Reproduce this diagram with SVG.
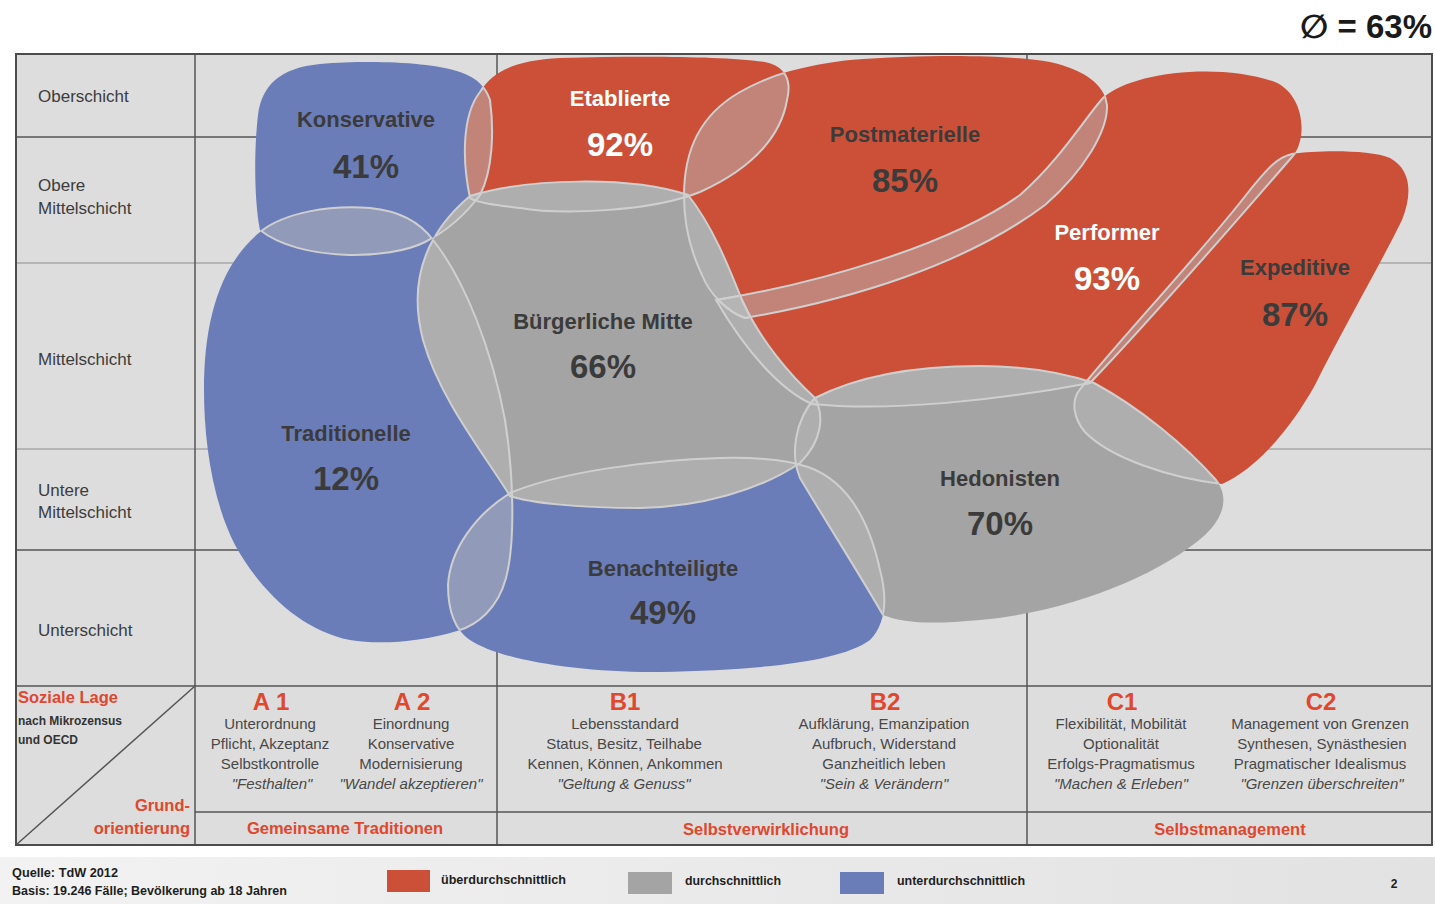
<svg xmlns="http://www.w3.org/2000/svg" width="1435" height="904" viewBox="0 0 1435 904">
<style>
text{font-family:"Liberation Sans",Arial,sans-serif}
.blue{fill:#6b7db9}
.red{fill:#cc5038}
.gray{fill:#a4a4a4}
.lens{fill:#b8b8b8;fill-opacity:.5;stroke:none}
.edge{fill:none;stroke:#cfcfcf;stroke-width:2}
.lbl{font-weight:bold;font-size:22px;fill:#3b3b3b;text-anchor:middle}
.pct{font-weight:bold;font-size:33px;fill:#3b3b3b;text-anchor:middle}
.w{fill:#ffffff}
.row{font-size:17px;fill:#3c3c3c}
.gl{stroke:#555;stroke-width:1.5;fill:none}
.gll{stroke:#8c8c8c;stroke-width:1;fill:none}
.hd{font-weight:bold;font-size:24px;fill:#e0472d;text-anchor:middle}
.ds{font-size:15px;fill:#484848;text-anchor:middle}
.it{font-style:italic}
.rd{font-size:16.5px;font-weight:bold;fill:#e0472d}
.ft{font-size:12px;font-weight:bold;fill:#1e1e1e}
</style>
<defs>
<path id="p-kon" d="M260,230 C254,200 254,150 258,115 C262,85 280,68 320,64 C370,60 430,62 460,72 C478,78 486,88 490,100 C494,130 493,170 480,195 C465,215 445,232 425,242 C390,260 300,262 260,230 Z"/>
<path id="p-tra" d="M260,232 C285,212 330,205 370,208 C400,211 420,222 433,240 C465,280 492,350 505,420 C513,470 516,540 506,578 C498,608 478,625 457,631 C420,642 380,645 350,640 C300,630 260,590 235,545 C212,500 204,440 204,390 C204,320 220,265 260,232 Z"/>
<path id="p-ben" d="M510,493 C560,472 650,460 720,458 C760,457 790,461 808,467 C845,480 868,515 880,570 C888,600 885,625 870,640 C840,662 760,670 660,672 C580,673 500,660 470,640 C455,630 448,610 448,585 C450,550 475,515 510,493 Z"/>
<path id="p-eta" d="M470,198 C462,160 462,115 480,92 C492,72 515,60 560,58 C640,56 720,56 765,62 C785,66 792,80 787,100 C782,130 760,165 700,192 C650,212 560,215 520,208 C495,205 478,203 470,198 Z"/>
<path id="p-pos" d="M684,196 C684,150 700,115 740,92 C770,75 800,66 850,60 C930,54 1010,55 1050,62 C1085,70 1105,85 1107,105 C1108,130 1085,170 1045,205 C965,265 850,300 745,318 C728,312 710,295 702,275 C690,250 684,225 684,196 Z"/>
<path id="p-per" d="M716,300 C820,283 950,245 1020,195 C1060,160 1085,118 1103,98 C1130,72 1220,62 1275,82 C1305,95 1308,140 1292,157 C1250,205 1160,310 1090,383 C1000,400 890,412 812,404 C780,390 745,350 716,300 Z"/>
<path id="p-exp" d="M1078,392 C1110,350 1200,255 1250,190 C1265,172 1275,158 1292,154 C1320,150 1370,150 1390,158 C1412,170 1412,195 1402,220 C1380,265 1345,325 1315,385 C1290,430 1255,470 1222,484 C1170,478 1110,458 1085,432 C1073,418 1072,402 1078,392 Z"/>
<path id="p-bm" d="M470,196 C530,178 630,176 688,195 C712,225 728,265 742,300 C760,340 790,375 815,398 C824,415 823,440 800,463 C760,490 700,507 640,508 C580,508 530,503 510,496 C485,455 440,400 423,340 C410,290 418,240 470,196 Z"/>
<path id="p-hed" d="M815,398 C860,375 920,366 980,366 C1030,366 1070,375 1094,383 C1140,408 1185,445 1216,480 C1228,495 1226,515 1205,535 C1160,575 1070,612 980,620 C935,624 905,624 883,615 C860,575 825,520 800,478 C790,455 795,420 815,398 Z"/>
<clipPath id="c-kon"><use href="#p-kon"/></clipPath>
<clipPath id="c-tra"><use href="#p-tra"/></clipPath>
<clipPath id="c-ben"><use href="#p-ben"/></clipPath>
<clipPath id="c-eta"><use href="#p-eta"/></clipPath>
<clipPath id="c-pos"><use href="#p-pos"/></clipPath>
<clipPath id="c-per"><use href="#p-per"/></clipPath>
<clipPath id="c-exp"><use href="#p-exp"/></clipPath>
<clipPath id="c-bm"><use href="#p-bm"/></clipPath>
<clipPath id="c-hed"><use href="#p-hed"/></clipPath>
<linearGradient id="fg" x1="0" y1="0" x2="1" y2="0">
<stop offset="0" stop-color="#f2f2f2"/>
<stop offset="1" stop-color="#e2e2e2"/>
</linearGradient>
</defs>

<rect width="1435" height="904" fill="#ffffff"/>
<text x="1432" y="38" text-anchor="end" font-size="33" font-weight="bold" fill="#1a1a1a" style="font-family:'Liberation Sans','DejaVu Sans',sans-serif">∅ = 63%</text>

<g id="table">
<rect x="16" y="54" width="1416" height="791" fill="#dddddd"/>
<line class="gll" x1="16" y1="263" x2="1432" y2="263"/>
<line class="gll" x1="16" y1="449" x2="1432" y2="449"/>
<line class="gl" x1="16" y1="137" x2="1432" y2="137"/>
<line class="gl" x1="16" y1="550" x2="1432" y2="550"/>
<line class="gl" x1="497" y1="54" x2="497" y2="845"/>
<line class="gl" x1="1027" y1="54" x2="1027" y2="845"/>
<line class="gl" x1="195" y1="54" x2="195" y2="845"/>
<line class="gl" x1="16" y1="686" x2="1432" y2="686" stroke-width="2"/>
<line class="gl" x1="195" y1="812" x2="1432" y2="812" stroke-width="2"/>
<line class="gl" x1="16" y1="845" x2="195" y2="686"/>
<rect x="16" y="54" width="1416" height="791" fill="none" stroke="#4d4d4d" stroke-width="2"/>
<text class="row" x="38" y="102">Oberschicht</text>
<text class="row" x="38" y="191">Obere</text>
<text class="row" x="38" y="214">Mittelschicht</text>
<text class="row" x="38" y="365">Mittelschicht</text>
<text class="row" x="38" y="496">Untere</text>
<text class="row" x="38" y="518">Mittelschicht</text>
<text class="row" x="38" y="636">Unterschicht</text>
</g>

<g id="node-konservative"><use href="#p-kon" class="blue"/><text class="lbl" x="366" y="127">Konservative</text><text class="pct" x="366" y="178">41%</text></g>
<g id="node-traditionelle"><use href="#p-tra" class="blue"/><text class="lbl" x="346" y="441">Traditionelle</text><text class="pct" x="346" y="490">12%</text></g>
<g id="node-benachteiligte"><use href="#p-ben" class="blue"/><text class="lbl" x="663" y="576">Benachteiligte</text><text class="pct" x="663" y="624">49%</text></g>
<g id="node-etablierte"><use href="#p-eta" class="red"/><text class="lbl w" x="620" y="106">Etablierte</text><text class="pct w" x="620" y="156">92%</text></g>
<g id="node-postmaterielle"><use href="#p-pos" class="red"/><text class="lbl" x="905" y="142">Postmaterielle</text><text class="pct" x="905" y="192">85%</text></g>
<g id="node-performer"><use href="#p-per" class="red"/><text class="lbl w" x="1107" y="240">Performer</text><text class="pct w" x="1107" y="290">93%</text></g>
<g id="node-expeditive"><use href="#p-exp" class="red"/><text class="lbl" x="1295" y="275">Expeditive</text><text class="pct" x="1295" y="326">87%</text></g>
<g id="node-buergerliche-mitte"><use href="#p-bm" class="gray"/><text class="lbl" x="603" y="329">Bürgerliche Mitte</text><text class="pct" x="603" y="378">66%</text></g>
<g id="node-hedonisten"><use href="#p-hed" class="gray"/><text class="lbl" x="1000" y="486">Hedonisten</text><text class="pct" x="1000" y="535">70%</text></g>

<g id="connectors">
<g clip-path="url(#c-kon)"><use href="#p-tra" class="lens"/><use href="#p-eta" class="lens"/><use href="#p-bm" class="lens"/></g>
<g clip-path="url(#c-tra)"><use href="#p-bm" class="lens"/><use href="#p-ben" class="lens"/></g>
<g clip-path="url(#c-eta)"><use href="#p-bm" class="lens"/><use href="#p-pos" class="lens"/></g>
<g clip-path="url(#c-pos)"><use href="#p-bm" class="lens"/><use href="#p-per" class="lens"/></g>
<g clip-path="url(#c-per)"><use href="#p-bm" class="lens"/><use href="#p-exp" class="lens"/><use href="#p-hed" class="lens"/></g>
<g clip-path="url(#c-exp)"><use href="#p-hed" class="lens"/></g>
<g clip-path="url(#c-bm)"><use href="#p-ben" class="lens"/><use href="#p-hed" class="lens"/></g>
<g clip-path="url(#c-ben)"><use href="#p-hed" class="lens"/></g>

<g clip-path="url(#c-kon)"><use href="#p-tra" class="edge"/><use href="#p-eta" class="edge"/><use href="#p-bm" class="edge"/></g>
<g clip-path="url(#c-tra)"><use href="#p-kon" class="edge"/><use href="#p-bm" class="edge"/><use href="#p-ben" class="edge"/></g>
<g clip-path="url(#c-ben)"><use href="#p-tra" class="edge"/><use href="#p-bm" class="edge"/><use href="#p-hed" class="edge"/></g>
<g clip-path="url(#c-eta)"><use href="#p-kon" class="edge"/><use href="#p-bm" class="edge"/><use href="#p-pos" class="edge"/></g>
<g clip-path="url(#c-pos)"><use href="#p-eta" class="edge"/><use href="#p-bm" class="edge"/><use href="#p-per" class="edge"/></g>
<g clip-path="url(#c-per)"><use href="#p-pos" class="edge"/><use href="#p-bm" class="edge"/><use href="#p-exp" class="edge"/><use href="#p-hed" class="edge"/></g>
<g clip-path="url(#c-exp)"><use href="#p-per" class="edge"/><use href="#p-hed" class="edge"/></g>
<g clip-path="url(#c-bm)"><use href="#p-kon" class="edge"/><use href="#p-tra" class="edge"/><use href="#p-eta" class="edge"/><use href="#p-pos" class="edge"/><use href="#p-per" class="edge"/><use href="#p-ben" class="edge"/><use href="#p-hed" class="edge"/></g>
<g clip-path="url(#c-hed)"><use href="#p-per" class="edge"/><use href="#p-exp" class="edge"/><use href="#p-bm" class="edge"/><use href="#p-ben" class="edge"/></g>
</g>

<g id="legend-axes">
<text class="rd" x="18" y="703" font-size="16">Soziale Lage</text>
<text x="18" y="725" font-size="12" font-weight="bold" fill="#333">nach Mikrozensus</text>
<text x="18" y="744" font-size="12" font-weight="bold" fill="#333">und OECD</text>
<text class="rd" x="190" y="811" text-anchor="end">Grund-</text>
<text class="rd" x="190" y="834" text-anchor="end">orientierung</text>
</g>

<g id="col-a1">
<text class="hd" x="271" y="710">A 1</text>
<text class="ds" x="270" y="729">Unterordnung</text>
<text class="ds" x="270" y="749">Pflicht, Akzeptanz</text>
<text class="ds" x="270" y="769">Selbstkontrolle</text>
<text class="ds it" x="272" y="789">"Festhalten"</text>
</g>
<g id="col-a2">
<text class="hd" x="412" y="710">A 2</text>
<text class="ds" x="411" y="729">Einordnung</text>
<text class="ds" x="411" y="749">Konservative</text>
<text class="ds" x="411" y="769">Modernisierung</text>
<text class="ds it" x="411" y="789">"Wandel akzeptieren"</text>
</g>
<g id="col-b1">
<text class="hd" x="625" y="710">B1</text>
<text class="ds" x="625" y="729">Lebensstandard</text>
<text class="ds" x="624" y="749">Status, Besitz, Teilhabe</text>
<text class="ds" x="625" y="769">Kennen, Können, Ankommen</text>
<text class="ds it" x="624" y="789">"Geltung &amp; Genuss"</text>
</g>
<g id="col-b2">
<text class="hd" x="885" y="710">B2</text>
<text class="ds" x="884" y="729">Aufklärung, Emanzipation</text>
<text class="ds" x="884" y="749">Aufbruch, Widerstand</text>
<text class="ds" x="884" y="769">Ganzheitlich leben</text>
<text class="ds it" x="884" y="789">"Sein &amp; Verändern"</text>
</g>
<g id="col-c1">
<text class="hd" x="1122" y="710">C1</text>
<text class="ds" x="1121" y="729">Flexibilität, Mobilität</text>
<text class="ds" x="1121" y="749">Optionalität</text>
<text class="ds" x="1121" y="769">Erfolgs-Pragmatismus</text>
<text class="ds it" x="1121" y="789">"Machen &amp; Erleben"</text>
</g>
<g id="col-c2">
<text class="hd" x="1321" y="710">C2</text>
<text class="ds" x="1320" y="729">Management von Grenzen</text>
<text class="ds" x="1322" y="749">Synthesen, Synästhesien</text>
<text class="ds" x="1320" y="769">Pragmatischer Idealismus</text>
<text class="ds it" x="1322" y="789">"Grenzen überschreiten"</text>
</g>
<g id="orientations">
<text class="rd" x="345" y="834" text-anchor="middle">Gemeinsame Traditionen</text>
<text class="rd" x="766" y="835" text-anchor="middle">Selbstverwirklichung</text>
<text class="rd" x="1230" y="835" text-anchor="middle">Selbstmanagement</text>
</g>

<g id="footer">
<rect x="0" y="857" width="1435" height="47" fill="url(#fg)"/>
<text class="ft" x="12" y="877" textLength="106" lengthAdjust="spacingAndGlyphs">Quelle: TdW 2012</text>
<text class="ft" x="12" y="895" textLength="275" lengthAdjust="spacingAndGlyphs">Basis: 19.246 Fälle; Bevölkerung ab 18  Jahren</text>
<rect x="387" y="870" width="43" height="22" class="red"/>
<text class="ft" x="441" y="884" textLength="125" lengthAdjust="spacingAndGlyphs">überdurchschnittlich</text>
<rect x="628" y="872" width="44" height="22" class="gray"/>
<text class="ft" x="685" y="885" textLength="96" lengthAdjust="spacingAndGlyphs">durchschnittlich</text>
<rect x="840" y="872" width="44" height="22" class="blue"/>
<text class="ft" x="897" y="885" textLength="128" lengthAdjust="spacingAndGlyphs">unterdurchschnittlich</text>
<text class="ft" x="1394" y="888" text-anchor="middle">2</text>
</g>
</svg>
